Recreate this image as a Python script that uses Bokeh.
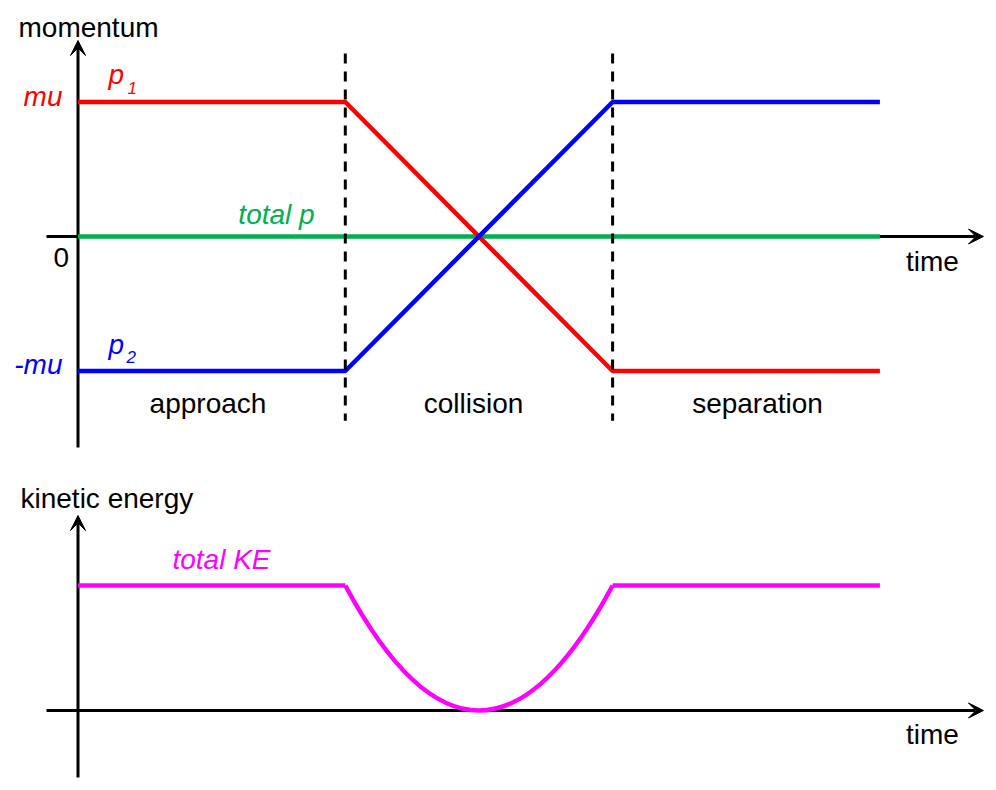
from bokeh.plotting import figure
from bokeh.models import Range1d, Arrow, VeeHead, ColumnDataSource
from bokeh.core.properties import value
from bokeh.embed import file_html
from bokeh.resources import INLINE

# ---------------- data ----------------
time_pts = [0, 1, 2, 3]            # start, collision begins, collision ends, end
p1_vals = [1, 1, -1, -1]            # momentum of particle 1 (units of mu)
p2_vals = [-1, -1, 1, 1]            # momentum of particle 2
total_p_vals = [0, 0, 0, 0]         # total momentum
phase_bounds = [1, 2]
phase_names = ["approach", "collision", "separation"]
mom_tick_vals = [1, 0, -1]
mom_tick_labels = ["mu", "0", "-mu"]
mom_tick_colors = ["#FF0000", "black", "#0000FF"]
mom_tick_styles = ["italic", "normal", "italic"]
ke_level = 1.0                      # total KE before / after the collision
ke_min = 0.0                        # total KE at the middle of the collision

FONT = value("Liberation Sans")
RED, BLUE, GREEN, MAGENTA = "#FF0000", "#0000FF", "#00B050", "#FF00FF"

p = figure(width=988, height=782, output_backend="svg", toolbar_location=None,
           x_range=Range1d(-0.28994, 3.40628), y_range=Range1d(-4.05948, 1.75465),
           x_axis_type=None, y_axis_type=None, min_border=0,
           outline_line_color=None, background_fill_color="white",
           border_fill_color="white")
p.extra_y_ranges = {"ke": Range1d(-0.576, 5.68)}

# ---------------- axes (arrows) ----------------
def axis_arrow(x0, y0, x1, y1, rng="default"):
    p.add_layout(Arrow(x_start=x0, y_start=y0, x_end=x1, y_end=y1,
                       line_width=3, line_color="black", y_range_name=rng,
                       level="underlay",
                       end=VeeHead(size=15, fill_color="black", line_color="black",
                                   line_width=1)))

axis_arrow(-0.1178, 0, 3.3875, 0)
axis_arrow(0, -1.5688, 0, 1.4572)
axis_arrow(-0.1178, 0, 3.3875, 0, "ke")
axis_arrow(0, -0.536, 0, 1.56, "ke")

# ---------------- momentum lines ----------------
p.line(time_pts, total_p_vals, line_color=GREEN, line_width=4.5)
p.line(time_pts, p1_vals, line_color=RED, line_width=4.5)
p.line(time_pts, p2_vals, line_color=BLUE, line_width=4.5)

# phase boundaries
for tb in phase_bounds:
    p.line([tb, tb], [1.3606, -1.37], line_color="black", line_width=3,
           line_dash="10 8")

# ---------------- kinetic energy ----------------
p.line(time_pts[0:2], [ke_level, ke_level], line_color=MAGENTA, line_width=4.5,
       y_range_name="ke")
p.line(time_pts[2:4], [ke_level, ke_level], line_color=MAGENTA, line_width=4.5,
       y_range_name="ke")
mid_t = (time_pts[1] + time_pts[2]) / 2
p.quadratic(x0=[time_pts[1]], y0=[ke_level], x1=[time_pts[2]], y1=[ke_level],
            cx=[mid_t], cy=[2 * ke_min - ke_level], line_color=MAGENTA,
            line_width=4.5, y_range_name="ke")

# ---------------- texts ----------------
def txt(x, y, s, color="black", size=28, style="normal", align="left",
        rng="default"):
    p.text(x=[x], y=[y], text=[s], text_color=color, text_font=FONT,
           text_font_size=value(f"{size}px"), text_font_style=style,
           text_align=align, text_baseline="alphabetic", y_range_name=rng,
           y_offset=-round(size * 0.32))

# momentum tick labels
tick_src = ColumnDataSource(dict(
    x=[-0.058, -0.033, -0.058],
    y=[v - off for v, off in zip(mom_tick_vals, [0.026, 0.223, 0.0186])],
    text=mom_tick_labels, color=mom_tick_colors, style=mom_tick_styles))
p.text(x="x", y="y", text="text", text_color="color", text_font_style="style",
       source=tick_src, text_font=FONT, text_font_size=value("28px"),
       text_align="right", text_baseline="alphabetic", y_offset=-9)

txt(-0.2226, 1.487, "momentum")
txt(3.1967, -0.2528, "time", align="center")

# series labels
txt(0.1141, 1.1375, "p", RED, style="italic")
txt(0.1852, 1.0632, "1", RED, size=17, style="italic")
txt(0.1141, -0.8699, "p", BLUE, style="italic")
txt(0.1814, -0.9368, "2", BLUE, size=17, style="italic")
txt(0.7426, 0.0967, "total p", GREEN, style="italic", align="center")

# phase labels
for t_lab, name in zip([0.4863, 1.4796, 2.5421], phase_names):
    txt(t_lab, -1.312, name, align="center")

# KE panel texts
txt(-0.2151, 1.624, "kinetic energy", rng="ke")
txt(0.5369, 1.136, "total KE", MAGENTA, style="italic", align="center", rng="ke")
txt(3.1967, -0.264, "time", align="center", rng="ke")

open("out.html", "w").write(file_html(p, INLINE))
